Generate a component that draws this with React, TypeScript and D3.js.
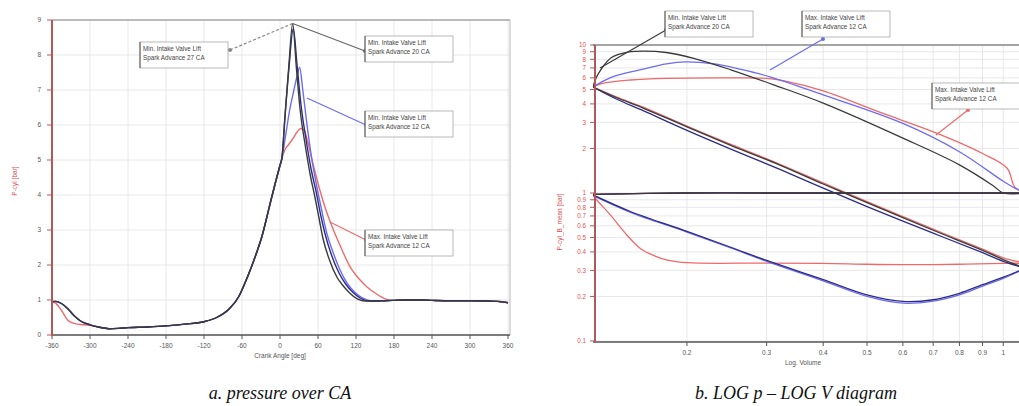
import React from 'react';
import * as d3 from 'd3';

// ---- chart a: pressure over crank angle ----
const caTicks = [-360, -300, -240, -180, -120, -60, 0, 60, 120, 180, 240, 300, 360];
const pTicks = [0, 1, 2, 3, 4, 5, 6, 7, 8, 9];

// common rising part (intake + compression)
const caRise = [-360, -355, -345, -335, -325, -315, -300, -285, -270, -255, -240, -210, -180, -150, -120, -100, -80, -65, -55, -45, -37, -28, -21, -15, -8, 0, 3];
const pRise = [0.95, 0.96, 0.9, 0.75, 0.55, 0.4, 0.29, 0.22, 0.18, 0.19, 0.21, 0.23, 0.26, 0.31, 0.38, 0.5, 0.75, 1.1, 1.5, 1.95, 2.35, 2.85, 3.35, 3.8, 4.3, 4.85, 5.05];
const caRiseRed = [-360, -355, -345, -335, -325, -315, -300];
const pRiseRed = [0.95, 0.92, 0.7, 0.42, 0.33, 0.3, 0.28];

// exhaust tail
const caTail = [150, 165, 180, 200, 220, 240, 270, 300, 330, 350, 360];
const pTail = [0.97, 0.98, 0.99, 1.0, 1.0, 0.99, 0.98, 0.98, 0.97, 0.95, 0.92];

const caBlack = [8, 14, 20, 26, 32, 40, 48, 55, 62, 68, 78, 90, 100, 110, 122, 135];
const pBlack = [6.3, 7.7, 8.9, 7.6, 6.4, 5.4, 4.55, 3.95, 3.3, 2.75, 2.15, 1.65, 1.4, 1.2, 1.03, 0.97];
const caNavy = [8, 14, 21, 27, 33, 41, 49, 57, 64, 71, 81, 93, 104, 115, 127, 140];
const pNavy = [6.25, 7.6, 8.75, 7.7, 6.6, 5.6, 4.75, 4.1, 3.45, 2.9, 2.3, 1.78, 1.45, 1.22, 1.05, 0.97];
const caBlue = [8, 15, 22, 27, 31, 36, 42, 50, 58, 66, 74, 84, 95, 106, 118, 130, 142];
const pBlue = [5.6, 6.4, 7.0, 7.4, 7.65, 7.0, 6.1, 5.05, 4.25, 3.55, 2.9, 2.35, 1.85, 1.48, 1.22, 1.06, 0.98];
const caRed = [8, 14, 20, 27, 33, 38, 44, 52, 62, 72, 80, 95, 110, 125, 137, 150, 163, 175];
const pRed = [5.3, 5.45, 5.6, 5.8, 5.9, 5.85, 5.5, 4.9, 4.2, 3.6, 3.2, 2.55, 1.97, 1.6, 1.38, 1.2, 1.06, 0.99];

// ---- chart b: log p - log V ----
const vTicks = [0.2, 0.3, 0.4, 0.5, 0.6, 0.7, 0.8, 0.9, 1];
const lpTicks = [0.1, 0.2, 0.3, 0.4, 0.5, 0.6, 0.7, 0.8, 0.9, 1, 2, 3, 4, 5, 6, 7, 8, 9, 10];

type Pt = [number, number];
const compBlack: Pt[] = [[1.12, 0.31], [1.0, 0.355], [0.9, 0.41], [0.7, 0.56], [0.5, 0.86], [0.4, 1.15], [0.32, 1.55], [0.25, 2.1], [0.2, 2.8], [0.16, 3.75], [0.14, 4.4], [0.124, 5.2]];
const compBlue: Pt[] = [[1.12, 0.31], [1.0, 0.345], [0.9, 0.395], [0.7, 0.535], [0.5, 0.81], [0.4, 1.08], [0.32, 1.45], [0.25, 1.98], [0.2, 2.65], [0.16, 3.6], [0.14, 4.3], [0.124, 5.2]];
const compRed: Pt[] = [[1.12, 0.335], [1.0, 0.365], [0.9, 0.418], [0.7, 0.57], [0.5, 0.875], [0.4, 1.17], [0.32, 1.57], [0.25, 2.13], [0.2, 2.83], [0.16, 3.8], [0.14, 4.45], [0.124, 5.2]];

const expBlack: Pt[] = [[0.124, 5.2], [0.126, 6.0], [0.129, 6.8], [0.136, 8.2], [0.148, 8.95], [0.161, 9.1], [0.18, 8.9], [0.208, 8.1], [0.25, 6.8], [0.31, 5.4], [0.4, 4.05], [0.6, 2.35], [0.8, 1.55], [0.95, 1.12], [1.0, 1.0], [1.12, 1.0]];
const expBlue: Pt[] = [[0.124, 5.2], [0.136, 6.05], [0.161, 6.9], [0.18, 7.45], [0.198, 7.7], [0.23, 7.45], [0.26, 6.9], [0.305, 6.1], [0.4, 4.6], [0.6, 2.95], [0.8, 1.9], [1.0, 1.2], [1.06, 1.08], [1.12, 1.0]];
const expRed: Pt[] = [[0.124, 5.2], [0.13, 5.5], [0.15, 5.8], [0.18, 5.95], [0.25, 6.0], [0.3, 5.95], [0.33, 5.7], [0.4, 4.9], [0.535, 3.5], [0.71, 2.55], [0.9, 1.85], [1.02, 1.47], [1.06, 1.1], [1.12, 1.0]];

const exhaust: Pt[] = [[1.12, 1.0], [0.8, 1.0], [0.5, 1.0], [0.3, 1.0], [0.2, 1.0], [0.124, 0.98]];

const intakeBlack: Pt[] = [[0.124, 0.97], [0.15, 0.75], [0.2, 0.55], [0.25, 0.43], [0.3, 0.35], [0.4, 0.26], [0.5, 0.205], [0.6, 0.185], [0.7, 0.19], [0.8, 0.21], [0.9, 0.24], [1.0, 0.27], [1.12, 0.31]];
const intakeBlue: Pt[] = [[0.124, 0.96], [0.15, 0.74], [0.2, 0.545], [0.25, 0.425], [0.3, 0.345], [0.4, 0.255], [0.5, 0.2], [0.6, 0.18], [0.7, 0.186], [0.8, 0.205], [0.9, 0.235], [1.0, 0.265], [1.12, 0.31]];
const intakeRed: Pt[] = [[0.124, 0.96], [0.128, 0.86], [0.136, 0.7], [0.145, 0.55], [0.158, 0.42], [0.17, 0.375], [0.181, 0.352], [0.2, 0.338], [0.3, 0.336], [0.4, 0.335], [0.5, 0.33], [0.6, 0.328], [0.8, 0.33], [1.0, 0.335], [1.12, 0.335]];

const C_BLACK = '#3a3a3a';
const C_NAVY = '#2c2c88';
const C_BLUE = '#6c6cf2';
const C_RED = '#ee6a6a';
const GRID = '#e2e2e2';
const FONT = 'Liberation Sans, Arial, sans-serif';

function zip(xs: number[], ys: number[]): Pt[] {
  return xs.map((x, i) => [x, ys[i]]);
}

function Note({ x, y, lines }: { x: number; y: number; lines: string[] }) {
  return (
    <g>
      <rect x={x} y={y} width={88} height={26} fill="#fff" stroke="#9a9a9a" strokeWidth={0.7} />
      <line x1={x} y1={y} x2={x} y2={y + 26} stroke="#555" strokeWidth={1} />
      {lines.map((t, i) => (
        <text key={i} x={x + 3} y={y + 9 + i * 9} fontSize={6.3} fontFamily={FONT} fill="#444">{t}</text>
      ))}
    </g>
  );
}

function Leader({ x1, y1, x2, y2, color, dash }: { x1: number; y1: number; x2: number; y2: number; color: string; dash?: string }) {
  return (
    <g>
      <line x1={x1} y1={y1} x2={x2} y2={y2} stroke={color} strokeWidth={1.2} strokeDasharray={dash} />
      <circle cx={x2} cy={y2} r={2} fill={color} />
    </g>
  );
}

function ChartA() {
  const x = d3.scaleLinear().domain([-360, 360]).range([52, 508]);
  const y = d3.scaleLinear().domain([0, 9]).range([335, 20]);
  const line = d3.line<Pt>().x(d => x(d[0])).y(d => y(d[1])).curve(d3.curveMonotoneX);

  const build = (ca: number[], p: number[], red = false): Pt[] => {
    const rise = red
      ? [...zip(caRiseRed, pRiseRed), ...zip(caRise, pRise).filter(d => d[0] > -300)]
      : zip(caRise, pRise);
    const last = ca[ca.length - 1];
    return [...rise, ...zip(ca, p), ...zip(caTail, pTail).filter(d => d[0] > last)];
  };

  const series = [
    { data: build(caRed, pRed, true), color: C_RED },
    { data: build(caBlue, pBlue), color: C_BLUE },
    { data: build(caNavy, pNavy), color: C_NAVY },
    { data: build(caBlack, pBlack), color: C_BLACK },
  ];

  return (
    <g>
      {caTicks.map(t => (
        <line key={'gx' + t} x1={x(t)} x2={x(t)} y1={20} y2={335} stroke={GRID} strokeWidth={0.8} />
      ))}
      {pTicks.map(t => (
        <line key={'gy' + t} x1={52} x2={510} y1={y(t)} y2={y(t)} stroke={GRID} strokeWidth={0.8} />
      ))}
      <line x1={52} x2={510} y1={20} y2={20} stroke="#a8a8a8" strokeWidth={1.6} />
      <line x1={510} x2={510} y1={20} y2={335} stroke="#b8b8b8" strokeWidth={1} />

      <clipPath id="clipA"><rect x={52} y={18} width={458} height={318} /></clipPath>
      <g clipPath="url(#clipA)">
        {series.map((s, i) => (
          <path key={i} d={line(s.data) || ''} fill="none" stroke={s.color} strokeWidth={1.4} />
        ))}
      </g>

      <line x1={52} x2={510} y1={335} y2={335} stroke="#555" strokeWidth={1.6} />
      {caTicks.map(t => (
        <g key={'tx' + t}>
          <line x1={x(t)} x2={x(t)} y1={335} y2={339} stroke="#555" />
          <text x={x(t)} y={348} fontSize={6.5} textAnchor="middle" fontFamily={FONT} fill="#555">{t}</text>
        </g>
      ))}
      <line x1={52} x2={52} y1={20} y2={336} stroke="#b35858" strokeWidth={2} />
      {pTicks.map(t => (
        <g key={'ty' + t}>
          <line x1={47} x2={52} y1={y(t)} y2={y(t)} stroke="#b35858" />
          <text x={41} y={y(t) + 2.3} fontSize={6.5} textAnchor="end" fontFamily={FONT} fill="#555">{t}</text>
        </g>
      ))}
      <text x={280} y={358} fontSize={6.5} textAnchor="middle" fontFamily={FONT} fill="#555">Crank Angle [deg]</text>
      <text transform="translate(17,181) rotate(-90)" fontSize={6.5} textAnchor="middle" fontFamily={FONT} fill="#e05050">P-cyl [bar]</text>

      <Leader x1={x(20)} y1={y(8.9)} x2={230} y2={50} color="#888" dash="3,2" />
      <Note x={140} y={42} lines={['Min. Intake Valve Lift', 'Spark Advance 27 CA']} />
      <Leader x1={x(20)} y1={y(8.9)} x2={365} y2={51} color="#666" />
      <Note x={365} y={36} lines={['Min. Intake Valve Lift', 'Spark Advance 20 CA']} />
      <Leader x1={307} y1={98} x2={366} y2={125} color={C_BLUE} />
      <Note x={365} y={111} lines={['Min. Intake Valve Lift', 'Spark Advance 12 CA']} />
      <Leader x1={330} y1={222} x2={366} y2={240} color={C_RED} />
      <Note x={365} y={230} lines={['Max. Intake Valve Lift', 'Spark Advance 12 CA']} />
    </g>
  );
}

function ChartB() {
  const x = d3.scaleLog().domain([0.124, 1.1]).range([593, 1022]);
  const y = d3.scaleLog().domain([0.1, 10]).range([341, 45]);
  const line = d3.line<Pt>().x(d => x(d[0])).y(d => y(d[1])).curve(d3.curveCatmullRom.alpha(0.5));

  const series = [
    { data: intakeRed, color: C_RED },
    { data: compRed, color: C_RED },
    { data: expRed, color: C_RED },
    { data: exhaust, color: C_RED },
    { data: intakeBlue, color: C_BLUE },
    { data: compBlue, color: C_NAVY },
    { data: expBlue, color: C_BLUE },
    { data: exhaust, color: C_NAVY },
    { data: intakeBlack, color: C_NAVY },
    { data: compBlack, color: C_BLACK },
    { data: expBlack, color: C_BLACK },
    { data: exhaust, color: C_BLACK },
  ];

  return (
    <g>
      {vTicks.map(t => (
        <line key={'gx' + t} x1={x(t)} x2={x(t)} y1={45} y2={341} stroke={GRID} strokeWidth={0.8} />
      ))}
      {lpTicks.map(t => (
        <line key={'gy' + t} x1={593} x2={1019} y1={y(t)} y2={y(t)} stroke={GRID} strokeWidth={0.8} />
      ))}
      <line x1={593} x2={1019} y1={45} y2={45} stroke="#8a8a8a" strokeWidth={1.6} />

      <clipPath id="clipB"><rect x={593} y={44} width={430} height={298} /></clipPath>
      <g clipPath="url(#clipB)">
        {series.map((s, i) => (
          <path key={i} d={line(s.data) || ''} fill="none" stroke={s.color} strokeWidth={1.3} />
        ))}
      </g>

      <line x1={593} x2={1019} y1={342} y2={342} stroke="#555" strokeWidth={1.6} />
      {vTicks.map(t => (
        <g key={'tx' + t}>
          <line x1={x(t)} x2={x(t)} y1={342} y2={346} stroke="#555" />
          <text x={x(t)} y={355} fontSize={6.5} textAnchor="middle" fontFamily={FONT} fill="#555">{t}</text>
        </g>
      ))}
      <line x1={595} x2={595} y1={45} y2={342} stroke="#b35858" strokeWidth={2} />
      {lpTicks.map(t => (
        <g key={'ty' + t}>
          <line x1={590} x2={595} y1={y(t)} y2={y(t)} stroke="#b35858" />
          <text x={586} y={y(t) + 2.3} fontSize={6.3} textAnchor="end" fontFamily={FONT} fill="#e05050">{t}</text>
        </g>
      ))}
      <text x={803} y={365} fontSize={6.5} textAnchor="middle" fontFamily={FONT} fill="#555">Log. Volume</text>
      <text transform="translate(562,222) rotate(-90)" fontSize={6.5} textAnchor="middle" fontFamily={FONT} fill="#e05050">P-cyl_B_mean [bar]</text>

      <Leader x1={600} y1={68} x2={666} y2={30} color={C_BLACK} />
      <Note x={665} y={11} lines={['Min. Intake Valve Lift', 'Spark Advance 20 CA']} />
      <Leader x1={770} y1={70} x2={823} y2={39} color={C_BLUE} />
      <Note x={802} y={11} lines={['Max. Intake Valve Lift', 'Spark Advance 12 CA']} />
      <Leader x1={936} y1={135} x2={968} y2={110} color={C_RED} />
      <Note x={932} y={83} lines={['Max. Intake Valve Lift', 'Spark Advance 12 CA']} />
    </g>
  );
}

export default function App() {
  return (
    <svg width={1019} height={406} style={{ position: 'absolute', left: 0, top: 0, background: '#fff' }}>
      <ChartA />
      <ChartB />
      <text x={280} y={399} fontSize={18} textAnchor="middle" fontStyle="italic" fontFamily="Liberation Serif, Times New Roman, serif" fill="#111">a. pressure over CA</text>
      <text x={796} y={399} fontSize={18} textAnchor="middle" fontStyle="italic" fontFamily="Liberation Serif, Times New Roman, serif" fill="#111">b. LOG p – LOG V diagram</text>
    </svg>
  );
}
